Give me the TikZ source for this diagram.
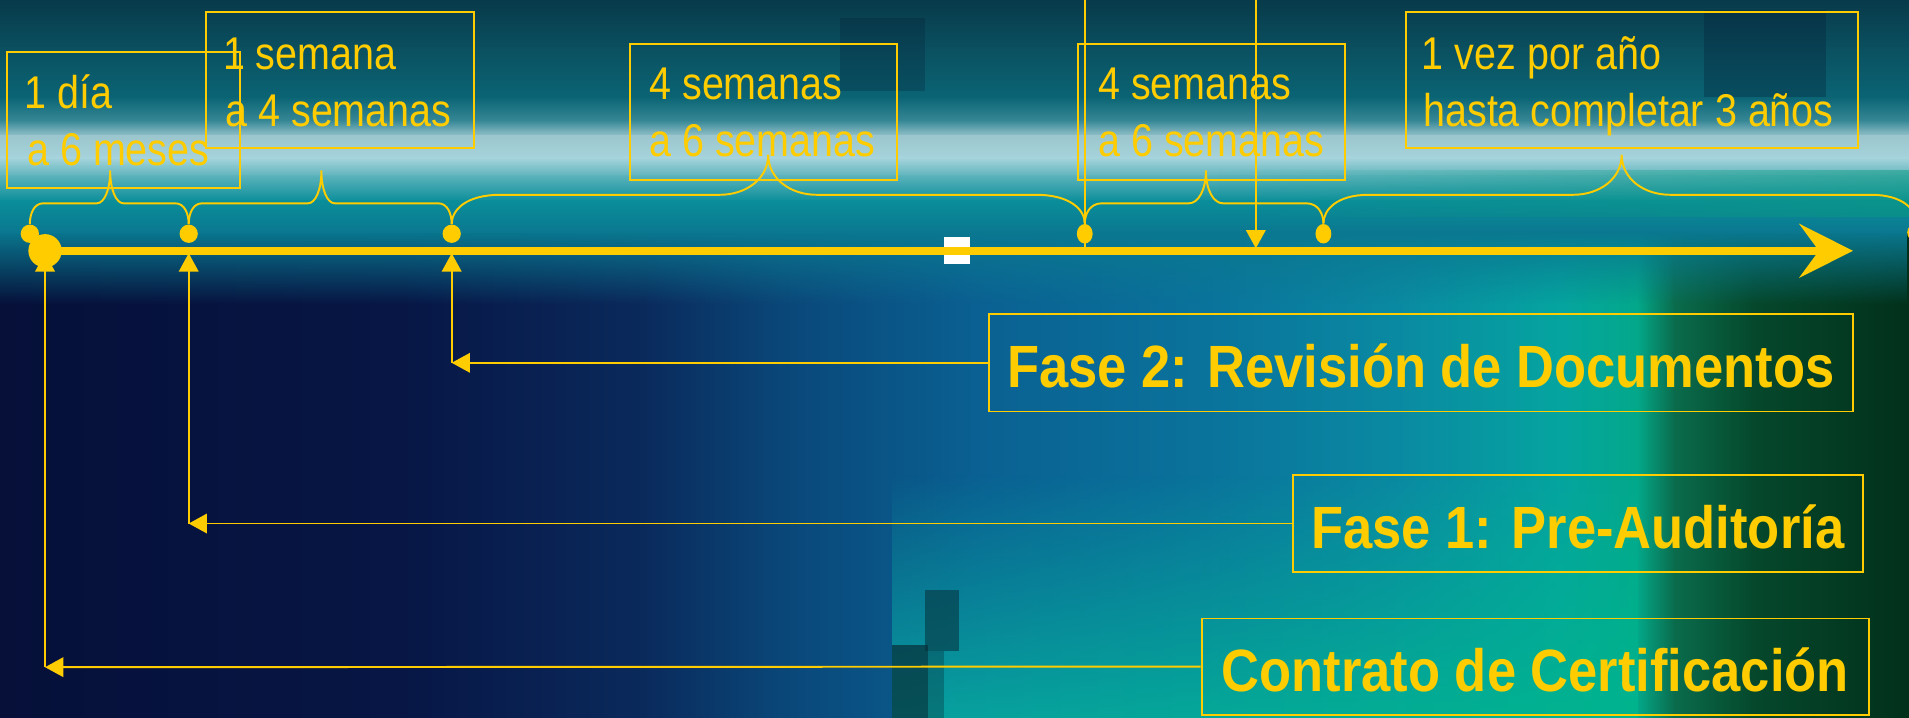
\documentclass[tikz,border=0pt]{standalone}
\usepackage{fontspec}
\setmainfont{Liberation Sans}
\newfontfamily\smallfont{Liberation Sans}[FakeStretch=0.86]
\newfontfamily\bigfont{Liberation Sans}[FakeStretch=0.88]
\usetikzlibrary{arrows.meta,shapes.geometric,fadings}
\definecolor{ylw}{HTML}{FFCC00}
% lower background stops
\definecolor{L0}{HTML}{061039}\definecolor{L1}{HTML}{071645}\definecolor{L2}{HTML}{0A2A5C}
\definecolor{L3}{HTML}{0A4678}\definecolor{L4}{HTML}{0A6092}\definecolor{L5}{HTML}{0A749C}
\definecolor{L6}{HTML}{0A8AA2}\definecolor{L7}{HTML}{05A4A0}\definecolor{L8}{HTML}{03A88A}
\definecolor{L9}{HTML}{0A6C4C}\definecolor{L10}{HTML}{05482C}\definecolor{L11}{HTML}{02301A}
% upper background stops
\definecolor{U0}{HTML}{083A4A}\definecolor{U1}{HTML}{0A5060}\definecolor{U2}{HTML}{0A6474}
\definecolor{U3}{HTML}{3A8A98}\definecolor{U4}{HTML}{9CC6CE}\definecolor{U5}{HTML}{A6D4DC}
\definecolor{U6}{HTML}{5AB2BA}\definecolor{U7}{HTML}{0A8E9A}\definecolor{U8}{HTML}{0A7890}
\definecolor{tealA}{HTML}{08A0A0}\definecolor{tealB}{HTML}{00B48E}
\definecolor{streak}{HTML}{062E38}\definecolor{greenish}{HTML}{0A9A80}
\definecolor{darknavy}{HTML}{041C34}
\tikzfading[name=fadedown, top color=transparent!0, bottom color=transparent!100]
\tikzfading[name=fadeup, top color=transparent!100, bottom color=transparent!0]
\tikzfading[name=fadeleft, left color=transparent!100, right color=transparent!0]
\tikzset{
  stxt/.style={font=\smallfont\fontsize{18.85pt}{23pt}\selectfont, text=ylw, inner sep=0pt, anchor=base west},
  btxt/.style={font=\bigfont\bfseries\fontsize{24.5pt}{29pt}\selectfont, text=ylw},
  tbox/.style={draw=ylw, line width=0.8pt, inner sep=0pt, anchor=north west, minimum height=56pt},
  bbox/.style={draw=ylw, line width=0.8pt, inner sep=0pt, text height=20.5pt, text depth=0pt, minimum height=40pt},
  thinl/.style={draw=ylw, line width=0.8pt},
  dotc/.style={circle, fill=ylw, inner sep=0pt, minimum size=7.5pt},
  doto/.style={ellipse, fill=ylw, inner sep=0pt, minimum width=6.5pt, minimum height=8pt},
  ytri/.tip={Triangle[length=7.5pt,width=8pt]}
}
\newcommand\tlbrace[9]{%
  \draw[thinl] (#1.north) .. controls (#3,{#6+0.5*(184.5-#6)}) and ({#3+0.3*#8},#6) .. ({#3+#8},#6)
  -- ({#5-#9},#6) .. controls ({#5-0.45*#9},#6) and (#5,{#6-0.4*(#6-#7)}) .. (#5,#7)
  .. controls (#5,{#6-0.4*(#6-#7)}) and ({#5+0.45*#9},#6) .. ({#5+#9},#6)
  -- ({#4-#8},#6) .. controls ({#4-0.3*#8},#6) and (#4,{#6+0.5*(184.5-#6)}) .. (#2.north);}
\begin{document}
\begin{tikzpicture}[x=0.5pt,y=-0.5pt]
\useasboundingbox (0,0) rectangle (1568,589);
% ---------- background ----------
\foreach \xa/\xb/\ca/\cb in {0/330/L0/L1, 330/530/L1/L2, 530/640/L2/L3, 640/800/L3/L4, 800/1000/L4/L5, 1000/1150/L5/L6, 1150/1280/L6/L7, 1280/1345/L7/L8, 1345/1375/L8/L9, 1375/1440/L9/L10, 1440/1568/L10/L11}
  \shade[left color=\ca, right color=\cb] ({\xa-0.6},180) rectangle ({\xb+0.6},590);
\shade[left color=tealA, right color=tealB, path fading=fadeup] (733,390) rectangle (1346,590);
\fill[streak, opacity=0.55] (760,485) rectangle (788,535);
\fill[streak, opacity=0.7] (733,530) rectangle (762,590);
\fill[streak, opacity=0.35] (762,535) rectangle (775,590);
\foreach \ya/\yb/\ca/\cb in {0/40/U0/U1, 40/80/U1/U2, 80/100/U2/U3, 100/112/U3/U4, 112/130/U4/U5, 130/145/U5/U6, 145/165/U6/U7, 165/190/U7/U8}
  \shade[top color=\ca, bottom color=\cb] (-1,{\ya-0.6}) rectangle (1569,{\yb+0.6});
\fill[U8, path fading=fadedown] (-1,189.5) rectangle (1569,250);
\fill[greenish, opacity=0.5, path fading=fadeleft] (1000,140) rectangle (1569,178);
\fill[darknavy, opacity=0.3] (1400,8) rectangle (1500,80);
\fill[darknavy, opacity=0.25] (690,15) rectangle (760,75);
% ---------- white mark ----------
\node[fill=white, minimum size=11pt, inner sep=0pt] (wsq) at (786,206) {};
% ---------- boxes with time spans ----------
\node[tbox, minimum width=95.5pt] (bA) at (5,42) {};
\node[tbox, minimum width=109.85pt] (bB) at (168.5,8.8) {};
\node[tbox, minimum width=109.5pt] (bC) at (517,35) {};
\node[tbox, minimum width=109.5pt] (bD) at (885,35) {};
\node[tbox, minimum width=185.5pt] (bE) at (1154,8.8) {};
\node[stxt] (tA1) at (19.8,89) {1 día};
\node[stxt] (tA2) at (22,136) {a 6 meses};
\node[stxt] (tB1) at (182.8,57) {1 semana};
\node[stxt] (tB2) at (184.8,103.6) {a 4 semanas};
\node[stxt] (tC1) at (533,82) {4 semanas};
\node[stxt] (tC2) at (533,128.7) {a 6 semanas};
\node[stxt] (tD1) at (901.7,82) {4 semanas};
\node[stxt] (tD2) at (901.7,128.7) {a 6 semanas};
\node[stxt] (tE1) at (1167.5,57) {1 vez por año};
\node[stxt] (tE2) at (1168.7,103.6) {hasta completar 3 años};
% ---------- phase boxes ----------
\node[bbox, btxt, minimum width=355pt] (f2) at (1167,298) {Fase 2: Revisión de Documentos};
\node[bbox, btxt, minimum width=234pt] (f1) at (1296,430) {Fase 1: Pre-Auditoría};
\node[bbox, btxt, minimum width=274pt, minimum height=39.5pt] (cc) at (1261,547.5) {Contrato de Certificación};
% ---------- coordinates ----------
\coordinate (c2) at (371,298);
\coordinate (c1) at (155,430);
\coordinate (c0) at (37,548);
\coordinate (a2) at (371,208);
\coordinate (a1) at (155,208);
\coordinate (a0) at (37,208);
\coordinate (top1) at (891,-2);
\coordinate (bot1) at (891,206);
\coordinate (top2) at (1031.5,-2);
\coordinate (bot2) at (1031.5,204);
\coordinate (tend) at (1522,206);
% ---------- connectors from phase boxes ----------
\draw[thinl, -ytri] (f2.west) -- (c2);
\draw[thinl, -ytri] (c2) -- (a2);
\draw[thinl, -ytri] (f1.west) -- (c1);
\draw[thinl, -ytri] (c1) -- (a1);
\draw[thinl, -ytri] (cc.west) -- (c0);
\draw[thinl, -ytri] (c0) -- (a0);
% ---------- vertical lines from top ----------
\draw[thinl] (top1) -- (bot1);
\draw[thinl, -ytri] (top2) -- (bot2);
% ---------- timeline ----------
\node[circle, fill=ylw, inner sep=0pt, minimum size=13.7pt] (d0b) at (37,206) {};
\draw[ylw, line width=3.25pt, -{Stealth[length=22pt,width=22pt,inset=8pt]}] (d0b.center) -- (tend);
% ---------- dots ----------
\node[dotc] (d0) at (24.5,192) {};
\node[dotc] (d1) at (155,192) {};
\node[dotc] (d2) at (371,192) {};
\node[doto] (d3) at (891,192) {};
\node[doto] (d4) at (1087,192) {};
\node[dotc] (d5) at (1574,191) {};
% ---------- braces ----------
\tlbrace{d0}{d1}{24.5}{155}{90.5}{167}{140}{11}{11}
\tlbrace{d1}{d2}{155}{371}{264}{167}{140}{11}{11}
\tlbrace{d2}{d3}{371}{891}{631}{160}{127}{40}{40}
\tlbrace{d3}{d4}{891}{1087}{990.5}{167}{140}{14}{14}
\tlbrace{d4}{d5}{1087}{1574}{1332}{160}{127}{37}{40}
\end{tikzpicture}
\end{document}
